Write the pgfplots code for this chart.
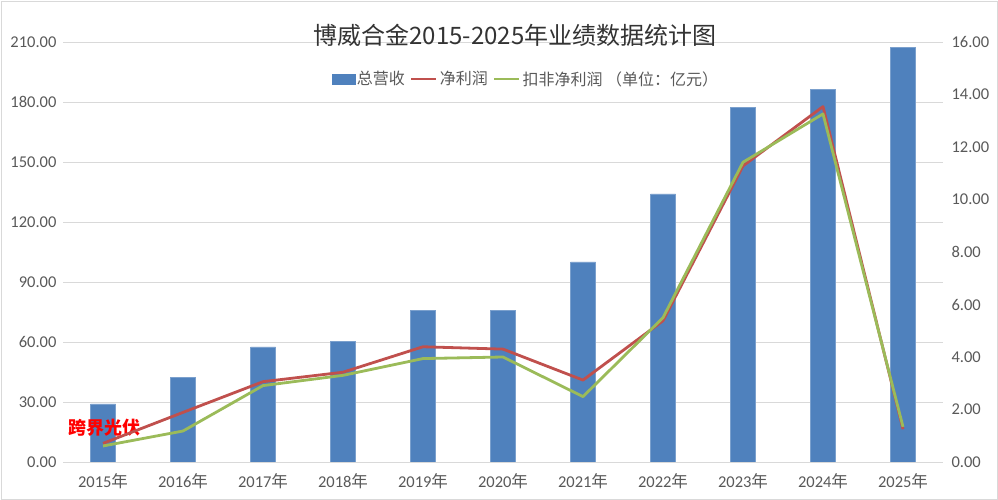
\documentclass[border=0pt]{standalone}
\usepackage{pgfplots}
\usepackage{pgfplotstable}
\pgfplotsset{compat=1.18}
\usepackage{fontspec}
\setmainfont{Carlito}
\newfontfamily\cjk{Noto Sans CJK SC}
\definecolor{barblue}{HTML}{4F81BD}
\definecolor{npred}{HTML}{C0504D}
\definecolor{ndgreen}{HTML}{9BBB59}
\definecolor{txtgray}{HTML}{595959}
\definecolor{gridgray}{HTML}{D9D9D9}
\pgfplotstableread{
x rev np nd
0 29.0 0.71 0.61
1 42.3 1.89 1.18
2 57.5 3.06 2.91
3 60.3 3.42 3.30
4 75.8 4.39 3.94
5 75.8 4.30 4.00
6 100.0 3.12 2.49
7 134.0 5.38 5.50
8 177.3 11.28 11.42
9 186.3 13.54 13.26
10 207.3 1.25 1.34
}\data
\pgfplotsset{myaxis/.style={
  at={(63pt,38pt)}, anchor=south west, scale only axis,
  width=880pt, height=420pt, xmin=-0.5, xmax=10.5,
  major tick length=0pt,
  /pgf/number format/.cd, fixed, fixed zerofill, precision=2, assume math mode=true, /pgfplots/.cd,
  yticklabel style={font=\fontsize{16.5}{16.5}\selectfont, text=txtgray},
  xticklabel style={font=\fontsize{16.5}{16.5}\selectfont, text=txtgray},
}}
\begin{document}
\begin{tikzpicture}
\path[use as bounding box] (0,0) rectangle (998pt,500pt);
\draw[gridgray, line width=0.8pt] (1pt,1pt) rectangle (997pt,499pt);
\begin{axis}[myaxis,
  ymin=0, ymax=210, ytick={0,30,...,210},
  axis x line*=bottom, axis y line*=left,
  x axis line style={draw=gridgray, line width=0.8pt},
  y axis line style={draw=none},
  ymajorgrids, grid style={gridgray, line width=0.6pt},
  xtick={0,...,10},
  xticklabels={2015{\cjk 年},2016{\cjk 年},2017{\cjk 年},2018{\cjk 年},2019{\cjk 年},2020{\cjk 年},2021{\cjk 年},2022{\cjk 年},2023{\cjk 年},2024{\cjk 年},2025{\cjk 年}},
  xticklabel style={yshift=-8pt},
  yticklabel style={xshift=-3pt},
  ybar, bar width=25pt,
]
\addplot[fill=barblue, draw=barblue!75!white, line width=0.6pt] table[x=x, y=rev] {\data};
\node[anchor=west, font=\cjk\bfseries\fontsize{18}{18}\selectfont, text=red] at (axis cs:-0.47,17) {跨界光伏};
\end{axis}
\begin{axis}[myaxis,
  ymin=0, ymax=16, ytick={0,2,...,16},
  axis y line*=right, axis x line=none,
  y axis line style={draw=none},
  yticklabel style={xshift=5pt},
  legend style={at={(0.526,0.912)}, anchor=center, draw=none, fill=none,
    font=\cjk\fontsize{16}{16}\selectfont, text=txtgray,
    /tikz/every even column/.append style={column sep=3pt}},
  legend columns=3,
  legend image code/.code={\draw[#1, line width=2.8pt] (0pt,0pt) -- (25pt,0pt);},
]
\addlegendimage{legend image code/.code={\fill[barblue] (0pt,-5pt) rectangle (23pt,5pt);}}
\addlegendentry{总营收}
\addplot[npred, line width=2.8pt, line join=round, mark=none] table[x=x, y=np] {\data};
\addlegendentry{净利润}
\addplot[ndgreen, line width=2.8pt, line join=round, mark=none] table[x=x, y=nd] {\data};
\addlegendentry{扣非净利润 （单位：亿元）}
\end{axis}
\node[font=\cjk\fontsize{24}{24}\selectfont, text=black!80] at (515pt,465pt) {博威合金2015-2025年业绩数据统计图};
\end{tikzpicture}
\end{document}
